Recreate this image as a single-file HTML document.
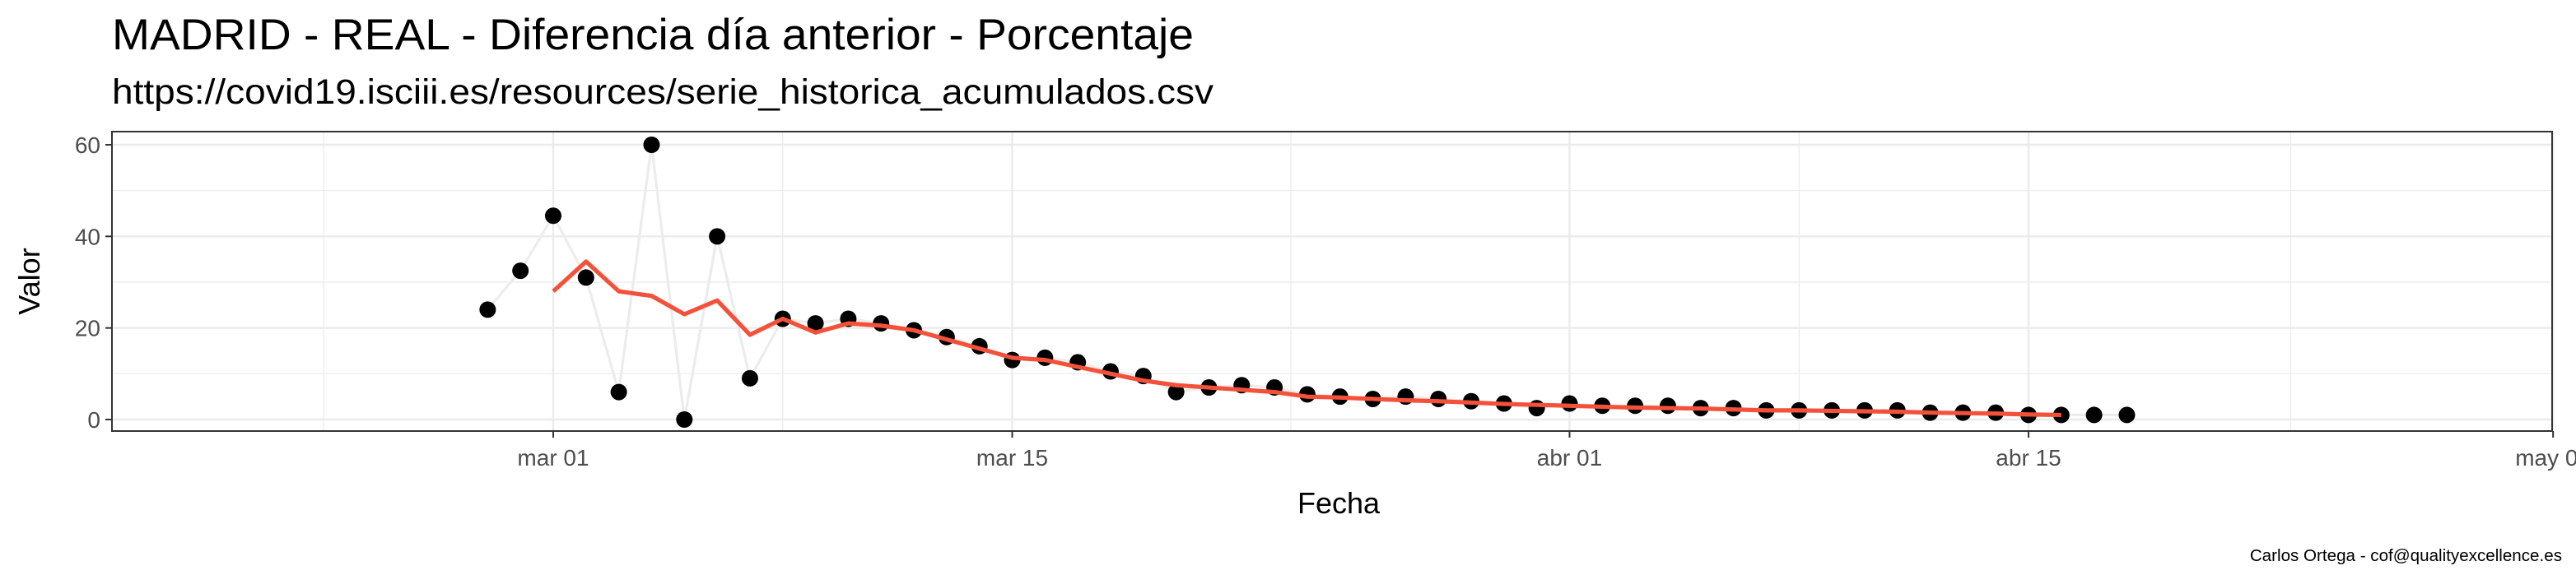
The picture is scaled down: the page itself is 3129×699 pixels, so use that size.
<!DOCTYPE html>
<html><head><meta charset="utf-8"><style>
html,body{margin:0;padding:0;background:#fff;}
svg{display:block;font-family:"Liberation Sans",Arial,sans-serif;}
</style></head><body>
<svg id="chart" width="3129" height="699" viewBox="0 0 1564.5 349.5" xmlns="http://www.w3.org/2000/svg">
<text x="68" y="30" font-size="26.5" fill="#000" textLength="657" lengthAdjust="spacingAndGlyphs">MADRID - REAL - Diferencia día anterior - Porcentaje</text>
<text x="68" y="63" font-size="21.5" fill="#000" textLength="669" lengthAdjust="spacingAndGlyphs">https://covid19.isciii.es/resources/serie_historica_acumulados.csv</text>
<g id="grid"></g>
<g id="marks"></g>
<rect x="68" y="80" width="1482" height="182" fill="none" stroke="#333" stroke-width="1"/>
<g id="axes"></g>
<text transform="translate(24,171) rotate(-90)" text-anchor="middle" font-size="18">Valor</text>
<text x="813" y="312" text-anchor="middle" font-size="18">Fecha</text>
<text x="1556" y="341" text-anchor="end" font-size="10.3">Carlos Ortega - cof@qualityexcellence.es</text>
</svg>
<script>
// day offsets relative to 2020-03-01
const pointStart = -2;
const values = [24,32.5,44.5,31,6,60,0,40,9,22,21,22,21,19.5,18,16,13,13.5,12.5,10.5,9.5,6,7,7.5,7,5.5,5,4.5,5,4.5,4,3.5,2.5,3.5,3,3,3,2.5,2.5,2,2,2,2,2,1.5,1.5,1.5,1,1,1,1];
const smoothStart = 0;
const smooth = [28,34.5,28,27,23,26,18.5,22,19,21,20.5,19.5,17.5,15.5,13.5,13,11.5,10,8.5,7.5,7,6.5,6,5,4.8,4.5,4.2,4,3.7,3.4,3.2,3,2.8,2.6,2.5,2.4,2.2,2,2,1.9,1.8,1.7,1.5,1.4,1.3,1.1,1];
const yTicks = [0,20,40,60];
const xTickDays = [0,14,31,45,61];
const xTickLabels = ["mar 01","mar 15","abr 01","abr 15","may 01"];
const xMinorDays = [-7,7,22.5,38,53];
const yMinor = [10,30,50];

const NS="http://www.w3.org/2000/svg";
const X = d => 336 + d*(1232-336)/45;
const Y = v => 255 - v*(255-88)/60;
function mk(tag, parent, attrs){const e=document.createElementNS(NS,tag);for(const k in attrs)e.setAttribute(k,attrs[k]);parent.appendChild(e);return e;}
const grid=document.getElementById('grid'), marks=document.getElementById('marks'), axes=document.getElementById('axes');
mk('rect',grid,{x:68,y:80,width:1482,height:182,fill:'#fff'});
yMinor.forEach(v=>{const l=mk('line',grid,{x1:68,x2:1550,y1:Y(v),y2:Y(v),stroke:'#ebebeb','stroke-width':0.6});

});
xMinorDays.forEach(d=>{const l=mk('line',grid,{x1:X(d),x2:X(d),y1:80,y2:262,stroke:'#ebebeb','stroke-width':0.6});

});
yTicks.forEach(v=>{const l=mk('line',grid,{x1:68,x2:1550,y1:Y(v),y2:Y(v),stroke:'#ebebeb','stroke-width':1.2});


const t=mk('line',axes,{x1:64,x2:68,y1:Y(v),y2:Y(v),stroke:'#333','stroke-width':1});


const tx=mk('text',axes,{x:61,y:Y(v)+5,'text-anchor':'end','font-size':14,fill:'#4d4d4d'});tx.textContent=v;

});
xTickDays.forEach((d,i)=>{const l=mk('line',grid,{x1:X(d),x2:X(d),y1:80,y2:262,stroke:'#ebebeb','stroke-width':1.2});


const t=mk('line',axes,{x1:X(d),x2:X(d),y1:262,y2:266,stroke:'#333','stroke-width':1});


const tx=mk('text',axes,{x:X(d),y:283,'text-anchor':'middle','font-size':14,fill:'#4d4d4d'});tx.textContent=xTickLabels[i];

});
const gp=mk('polyline',marks,{points:values.map((v,i)=>X(pointStart+i)+','+Y(v)).join(' '),fill:'none',stroke:'#ececec','stroke-width':1.6});


values.forEach((v,i)=>{const c=mk('circle',marks,{cx:X(pointStart+i),cy:Y(v),r:5,fill:'#000'});

});
const rl=mk('polyline',marks,{points:smooth.map((v,i)=>X(smoothStart+i)+','+Y(v)).join(' '),fill:'none',stroke:'#f4513a','stroke-width':2.6,'stroke-linejoin':'round'});


</script>
</body></html>
